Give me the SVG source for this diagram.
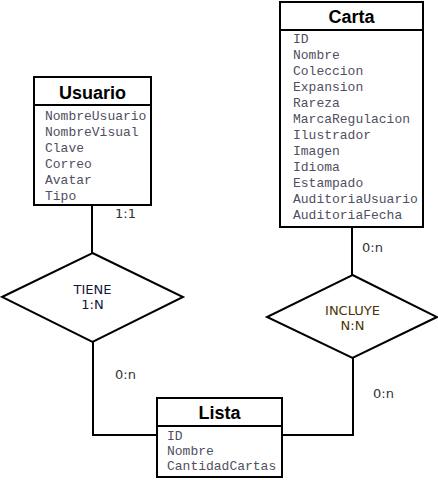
<svg xmlns="http://www.w3.org/2000/svg" width="438" height="480" viewBox="0 0 438 480">
<style>
.box{fill:#fff;stroke:#000;stroke-width:2}
.sep{stroke:#000;stroke-width:2}
.title{font-family:"Liberation Sans",Arial,sans-serif;font-weight:bold;font-size:18px;fill:#000;text-anchor:middle}
.attr{font-family:"Liberation Mono","Courier New",monospace;font-size:13px;fill:#4f4f5f}
.dia{fill:#fff;stroke:#000;stroke-width:2}
.rel{font-family:"DejaVu Sans",Verdana,sans-serif;font-size:13px;text-anchor:middle}
.card{font-family:"DejaVu Sans",Verdana,sans-serif;font-size:13px;fill:#333}
.conn{fill:none;stroke:#000;stroke-width:2}
</style>
<rect width="438" height="480" fill="#fff"/>
<g id="connectors">
<path class="conn" d="M92,205 V253"/>
<path class="conn" d="M93,342 V435 H157"/>
<path class="conn" d="M352,227 V275"/>
<path class="conn" d="M353,358 V435 H282"/>
<text class="card" x="115" y="218">1:1</text>
<text class="card" x="115" y="379">0:n</text>
<text class="card" x="362" y="252">0:n</text>
<text class="card" x="373" y="398">0:n</text>
</g>
<g id="usuario">
<rect class="box" x="34" y="77" width="117" height="128"/>
<line class="sep" x1="34" y1="105" x2="151" y2="105"/>
<text class="title" x="92.5" y="99">Usuario</text>
<text class="attr" x="45" y="120">NombreUsuario</text>
<text class="attr" x="45" y="136">NombreVisual</text>
<text class="attr" x="45" y="152">Clave</text>
<text class="attr" x="45" y="168">Correo</text>
<text class="attr" x="45" y="184">Avatar</text>
<text class="attr" x="45" y="200">Tipo</text>
</g>
<g id="carta">
<rect class="box" x="280" y="2" width="143" height="225"/>
<line class="sep" x1="280" y1="30" x2="423" y2="30"/>
<text class="title" x="351.5" y="23">Carta</text>
<text class="attr" x="293" y="43">ID</text>
<text class="attr" x="293" y="59">Nombre</text>
<text class="attr" x="293" y="75">Coleccion</text>
<text class="attr" x="293" y="91">Expansion</text>
<text class="attr" x="293" y="107">Rareza</text>
<text class="attr" x="293" y="123">MarcaRegulacion</text>
<text class="attr" x="293" y="139">Ilustrador</text>
<text class="attr" x="293" y="155">Imagen</text>
<text class="attr" x="293" y="171">Idioma</text>
<text class="attr" x="293" y="187">Estampado</text>
<text class="attr" x="293" y="203">AuditoriaUsuario</text>
<text class="attr" x="293" y="219">AuditoriaFecha</text>
</g>
<g id="lista">
<rect class="box" x="157" y="398" width="125" height="79"/>
<line class="sep" x1="157" y1="426" x2="282" y2="426"/>
<text class="title" x="219.5" y="419">Lista</text>
<text class="attr" x="167" y="440">ID</text>
<text class="attr" x="167" y="455">Nombre</text>
<text class="attr" x="167" y="470">CantidadCartas</text>
</g>
<g id="tiene">
<polygon class="dia" points="92.5,253 183,297 92.5,342 2,297"/>
<text class="rel" x="92.5" y="294" fill="#15153a">TIENE</text>
<text class="rel" x="92.5" y="309" fill="#15153a">1:N</text>
</g>
<g id="incluye">
<polygon class="dia" points="352.5,275 437,317 352.5,358 267,317"/>
<text class="rel" x="352.5" y="315" fill="#4a3300">INCLUYE</text>
<text class="rel" x="352.5" y="330" fill="#4a3300">N:N</text>
</g>
</svg>
